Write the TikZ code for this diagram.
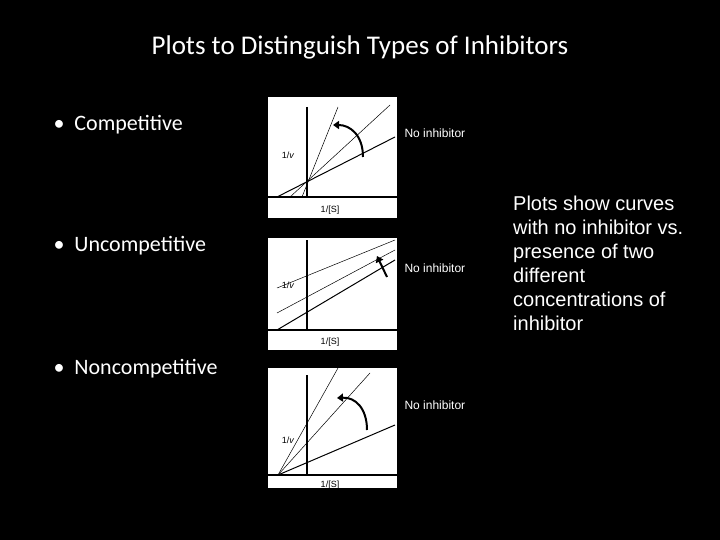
\documentclass[tikz,border=0pt]{standalone}
\usepackage{fontspec}
\setmainfont{Carlito}
\newfontfamily\arialfont{Liberation Sans}
\usetikzlibrary{arrows.meta}
\begin{document}
\begin{tikzpicture}[x=1pt,y=-1pt,
  axisline/.style={black,line width=1.2pt},
  plotline/.style={black,line width=0.5pt},
  thickline/.style={black,line width=1pt},
  turnarrow/.style={black,line width=2pt,-{Triangle[length=6pt,width=8pt]}},
  axislabel/.style={font=\arialfont\fontsize{9}{10}\selectfont},
  bullet/.style={anchor=west,text=white,font=\fontsize{22}{26}\selectfont},
  noinh/.style={anchor=west,text=white,font=\arialfont\fontsize{12}{14}\selectfont}]
% Background
\fill[black] (0,0) rectangle (720,540);
\node[text=white,font=\fontsize{27}{32}\selectfont] (title) at (360,47) {Plots to Distinguish Types of Inhibitors};
% Bullets
\node[bullet] (comp) at (50,125) {\textbullet\ \ Competitive};
\node[bullet] (uncomp) at (50,246) {\textbullet\ \ Uncompetitive};
\node[bullet] (noncomp) at (50,369) {\textbullet\ \ Noncompetitive};
% Competitive plot
\fill[white] (268,97) rectangle (397,218);
\draw[axisline] (307,107) -- (307,197);
\draw[axisline] (268,197) -- (397,197);
\draw[thickline] (277,197) -- (395,137);
\draw[plotline] (290,197) -- (390,105);
\draw[plotline] (302,197) -- (338,107);
\draw[turnarrow] (363,157) .. controls (363,135) and (350,125) .. (333,125);
\node[axislabel] (v1) at (288,155) {1/\textit{v}};
\node[axislabel] (s1) at (330,210) {1/[S]};
% Uncompetitive plot
\fill[white] (268,238) rectangle (397,350);
\draw[axisline] (307,240) -- (307,330);
\draw[axisline] (268,330) -- (397,330);
\draw[thickline] (277,330) -- (395,260);
\draw[plotline] (277,313) -- (395,250);
\draw[plotline] (277,288) -- (395,240);
\draw[turnarrow] (387,277) -- (377,256);
\node[axislabel] (v2) at (288,285) {1/\textit{v}};
\node[axislabel] (s2) at (330,342) {1/[S]};
% Noncompetitive plot
\fill[white] (268,368) rectangle (397,488);
\draw[axisline] (307,375) -- (307,475);
\draw[axisline] (268,475) -- (397,475);
\draw[thickline] (278,475) -- (395,425);
\draw[plotline] (278,475) -- (370,373);
\draw[plotline] (278,475) -- (338,368);
\draw[turnarrow] (367,430) .. controls (367,408) and (355,397) .. (337,398);
\node[axislabel] (v3) at (288,440) {1/\textit{v}};
\node[axislabel] (s3) at (330,485) {1/[S]};
% Labels
\node[noinh] (n1) at (401,133) {No inhibitor};
\node[noinh] (n2) at (401,268) {No inhibitor};
\node[noinh] (n3) at (401,405) {No inhibitor};
\node[anchor=north west,text=white,align=left,inner sep=0pt,
  font=\arialfont\fontsize{20}{24}\selectfont] (note) at (513,196)
  {Plots show curves\\with no inhibitor vs.\\presence of two\\different\\concentrations of\\inhibitor};
\end{tikzpicture}
\end{document}
